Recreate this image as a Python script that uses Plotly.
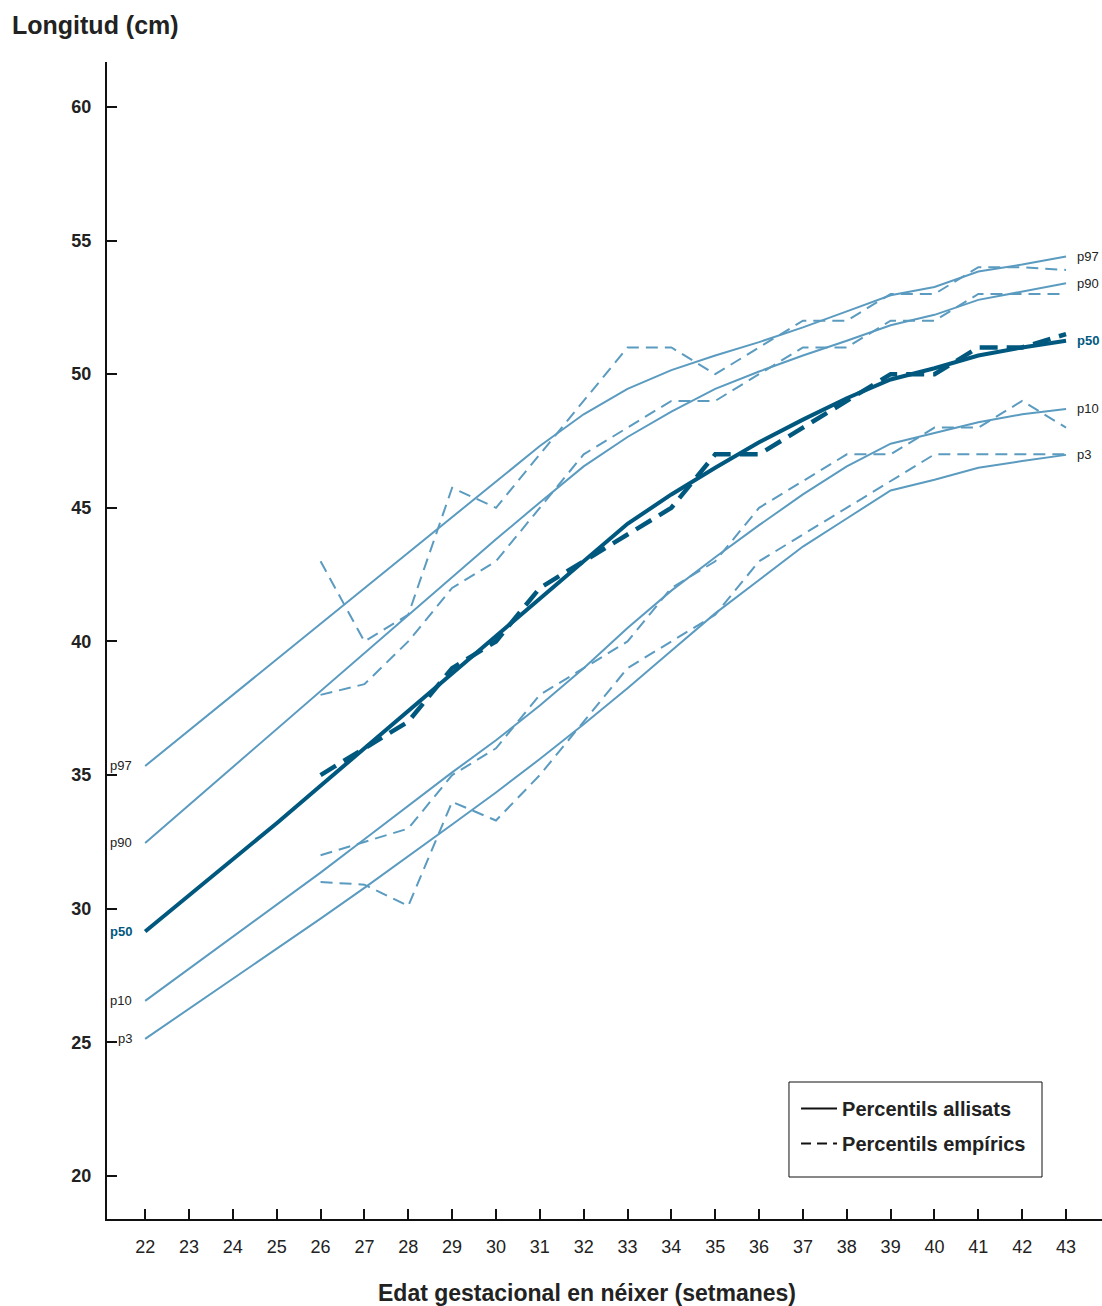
import plotly.graph_objects as go

weeks = list(range(22, 44))
emp_weeks = list(range(26, 44))

# Smoothed percentiles (solid)
p97_s = [35.34, 36.67, 38.0, 39.33, 40.66, 41.99, 43.32, 44.65, 45.98, 47.31, 48.5, 49.45, 50.15, 50.7, 51.2, 51.75, 52.35, 52.95, 53.26, 53.84, 54.1, 54.4]
p90_s = [32.46, 33.88, 35.3, 36.72, 38.14, 39.56, 40.98, 42.4, 43.82, 45.2, 46.55, 47.65, 48.6, 49.45, 50.1, 50.7, 51.25, 51.83, 52.22, 52.78, 53.1, 53.4]
p50_s = [29.15, 30.5, 31.85, 33.2, 34.6, 36.0, 37.4, 38.8, 40.2, 41.6, 43.0, 44.4, 45.5, 46.5, 47.45, 48.3, 49.1, 49.8, 50.22, 50.7, 51.0, 51.25]
p10_s = [26.55, 27.75, 28.95, 30.15, 31.35, 32.6, 33.85, 35.1, 36.3, 37.6, 39.0, 40.5, 41.9, 43.15, 44.35, 45.5, 46.55, 47.4, 47.8, 48.2, 48.5, 48.7]
p3_s = [25.13, 26.25, 27.37, 28.5, 29.63, 30.78, 31.95, 33.15, 34.35, 35.6, 36.9, 38.25, 39.65, 41.05, 42.3, 43.55, 44.6, 45.65, 46.05, 46.5, 46.75, 46.98]

# Empirical percentiles (dashed), weeks 26..43
p97_e = [43, 40, 41, 45.75, 45, 47, 49, 51, 51, 50, 51, 52, 52, 53, 53, 54, 54, 53.9]
p90_e = [38, 38.4, 40, 42, 43, 45, 47, 48, 49, 49, 50, 51, 51, 52, 52, 53, 53, 53]
p50_e = [35, 36, 37, 39, 40, 42, 43, 44, 45, 47, 47, 48, 49, 50, 50, 51, 51, 51.5]
p10_e = [32, 32.5, 33, 35, 36, 38, 39, 40, 42, 43, 45, 46, 47, 47, 48, 48, 49, 48]
p3_e = [31, 30.9, 30.1, 34, 33.3, 35, 37, 39, 40, 41, 43, 44, 45, 46, 47, 47, 47, 47]

labels = ["p97", "p90", "p50", "p10", "p3"]
y_ticks = [20, 25, 30, 35, 40, 45, 50, 55, 60]

LIGHT = "#5b9bc0"
DARK = "#00587f"
FONT = "Liberation Sans"

fig = go.Figure()

smooth = [p97_s, p90_s, p50_s, p10_s, p3_s]
emp = [p97_e, p90_e, p50_e, p10_e, p3_e]

for lab, s, e in zip(labels, smooth, emp):
    is50 = lab == "p50"
    fig.add_trace(go.Scatter(
        x=weeks, y=s, mode="lines", showlegend=False, hoverinfo="skip",
        line=dict(color=DARK if is50 else LIGHT, width=4 if is50 else 2)))
    fig.add_trace(go.Scatter(
        x=emp_weeks, y=e, mode="lines", showlegend=False, hoverinfo="skip",
        line=dict(color=DARK if is50 else LIGHT, width=4.5 if is50 else 2,
                  dash="18px,9px" if is50 else "12px,7px")))

# Legend entries (black)
fig.add_trace(go.Scatter(x=[None], y=[None], mode="lines", name="Percentils allisats",
                         legendgroup="a", line=dict(color="#111", width=2)))
fig.add_trace(go.Scatter(x=[None], y=[None], mode="lines", name="Percentils empírics",
                         legendgroup="b", line=dict(color="#111", width=2, dash="10px,6px")))

annotations = []
for lab, s in zip(labels, smooth):
    is50 = lab == "p50"
    f = dict(family=FONT, size=13, color=DARK if is50 else "#222",
             weight="bold" if is50 else "normal")
    annotations.append(dict(x=22, y=s[0], xref="x", yref="y", text=lab, showarrow=False,
                            xanchor="right", yanchor="middle", xshift=-11, font=f))
    annotations.append(dict(x=43, y=s[-1], xref="x", yref="y", text=lab, showarrow=False,
                            xanchor="left", yanchor="middle", xshift=9, font=f))

annotations.append(dict(x=-0.0975, y=1.032, xref="paper", yref="paper", text="Longitud (cm)",
                        showarrow=False, xanchor="left", yanchor="middle",
                        font=dict(family=FONT, size=25, color="#222", weight="bold")))
annotations.append(dict(x=0.482, y=-0.064, xref="paper", yref="paper",
                        text="Edat gestacional en néixer (setmanes)",
                        showarrow=False, xanchor="center", yanchor="middle",
                        font=dict(family=FONT, size=23, color="#222", weight="bold")))

# legend frame
shapes = [dict(type="rect", xref="paper", yref="paper", x0=0.6854, x1=0.9397,
               y0=0.0363, y1=0.1184, line=dict(color="#111", width=1),
               fillcolor="rgba(0,0,0,0)", layer="above")]

fig.update_layout(
    width=1102, height=1306,
    margin=dict(l=107, r=0, t=62, b=87),
    paper_bgcolor="white", plot_bgcolor="white",
    font=dict(family=FONT, color="#222"),
    annotations=annotations,
    shapes=shapes,
    showlegend=True,
    legend=dict(x=0.6925, y=0.1124, xanchor="left", yanchor="top",
                borderwidth=0, bgcolor="rgba(0,0,0,0)",
                font=dict(family=FONT, size=20, color="#222", weight="bold"),
                itemwidth=36, tracegroupgap=6),
    xaxis=dict(range=[21.13, 43.82], tickmode="array", tickvals=weeks,
               ticktext=[str(w) for w in weeks], ticks="inside", ticklen=10,
               tickwidth=2, tickcolor="#111", showline=True, linecolor="#111",
               linewidth=2, showgrid=False, zeroline=False,
               tickfont=dict(family=FONT, size=18, color="#222"),
               ticklabelstandoff=10),
    yaxis=dict(range=[18.39, 61.68], tickmode="array", tickvals=y_ticks,
               ticks="inside", ticklen=10, tickwidth=2, tickcolor="#111",
               showline=True, linecolor="#111", linewidth=2, showgrid=False,
               zeroline=False,
               tickfont=dict(family=FONT, size=18, color="#222", weight="bold"),
               ticklabelstandoff=10),
)

fig.write_html("out.html", config={"displayModeBar": False},
               post_script="document.body.style.margin='0';document.body.style.padding='0';")
